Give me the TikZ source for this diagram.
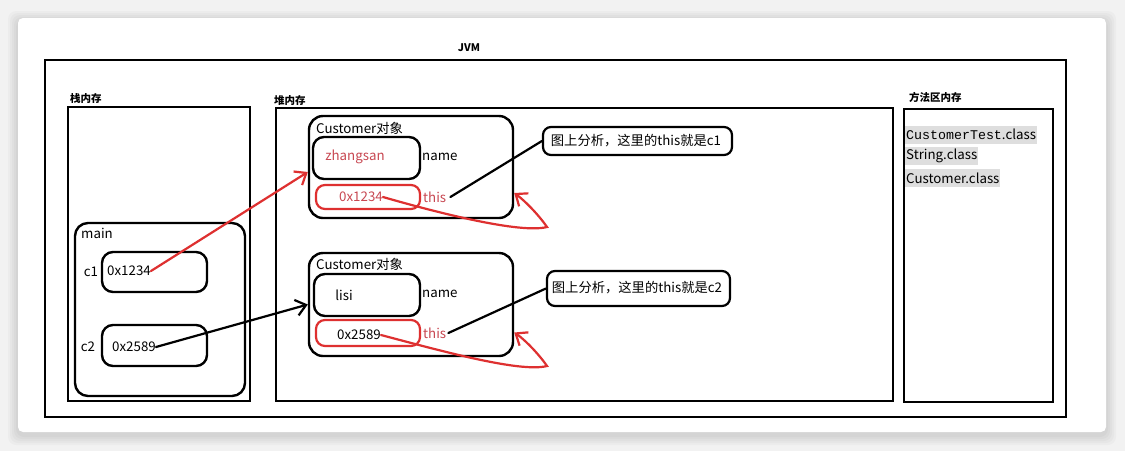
\documentclass[tikz,border=0pt]{standalone}
\usepackage{fontspec}
\setmainfont{Noto Sans CJK SC}
\newfontfamily\codefont{Liberation Mono}
\usetikzlibrary{arrows.meta}
\definecolor{inkred}{RGB}{222,48,48}
\definecolor{txtred}{RGB}{200,72,82}
\definecolor{hlgray}{RGB}{222,222,222}
\definecolor{pagebg}{RGB}{242,242,242}

\begin{document}
\begin{tikzpicture}[x=1pt,y=-1pt,
  frame/.style={draw, line width=2.5pt, rectangle, inner sep=0pt},
  rbox/.style={draw, line width=2.4pt, rounded corners=11pt, inner sep=0pt},
  redbox/.style={draw=inkred, line width=2.2pt, rounded corners=9pt, inner sep=0pt},
  callout/.style={draw, line width=2.2pt, rounded corners=8pt, inner sep=0pt},
  txt/.style={font=\fontsize{13.3}{15}\selectfont, inner sep=0pt},
  head/.style={font=\bfseries\fontsize{10.5}{12}\selectfont, inner sep=0pt, anchor=west},
  cls/.style={txt, anchor=west, fill=hlgray, inner xsep=1pt, inner ysep=0pt,
    minimum height=18pt},
  barb/.style={-{Straight Barb[length=10pt,width=16pt]}},
  redline/.style={draw=inkred, line width=2.2pt, line cap=round},
  blackline/.style={draw=black, line width=2.2pt, line cap=round}]

% page and card
\useasboundingbox (0,0) rectangle (1125,451);
\fill[pagebg] (0,0) rectangle (1125,451);
\foreach \s in {10,8,6,4,2}
  \fill[black, opacity=0.025, rounded corners=8pt]
    (18-\s,18-\s+3) rectangle (1106+\s,432+\s+3);
\fill[white, rounded corners=5pt] (18,18) rectangle (1106,432);

% memory areas
\node[head, anchor=center] (jvmlabel) at (469,48) {JVM};
\node[frame, minimum width=1021pt, minimum height=357pt] (jvm) at (555.5,238.5) {};

\node[head] (stacklabel) at (70,99) {栈内存};
\node[frame, minimum width=182pt, minimum height=294pt] (stack) at (159,254) {};

\node[head] (heaplabel) at (274,101) {堆内存};
\node[frame, minimum width=617pt, minimum height=293pt] (heap) at (584.5,254.5) {};

\node[head] (methodlabel) at (909,97) {方法区内存};
\node[frame, minimum width=149pt, minimum height=293pt] (method) at (978.5,255.5) {};

% method area contents
\node[cls] (cls1) at (905,134.5) {{\codefont CustomerTest}.class};
\node[cls] (cls2) at (905,156) {String.class};
\node[cls] (cls3) at (905,178) {Customer.class};

% stack frame of main
\node[rbox, minimum width=170pt, minimum height=173pt, rounded corners=13pt] (mainframe) at (160,309.5) {};
\node[txt, anchor=west] (mainlabel) at (81,233) {main};
\node[rbox, minimum width=105pt, minimum height=40pt] (c1box) at (154.5,272) {};
\node[rbox, minimum width=105pt, minimum height=41pt] (c2box) at (154.5,345.5) {};
\node[txt] (c1label) at (91,272) {c1};
\node[txt] (c2label) at (88,347) {c2};
\node[txt] (c1val) at (129,271) {0x1234};
\node[txt] (c2val) at (134,347) {0x2589};

% first object
\node[rbox, minimum width=204pt, minimum height=102pt, rounded corners=14pt] (obj1) at (411,167) {};
\node[txt, anchor=west] (obj1label) at (316,128) {Customer对象};
\node[rbox, minimum width=107pt, minimum height=42pt] (name1box) at (366.5,158) {};
\node[txt, text=txtred] (name1val) at (355,157) {zhangsan};
\node[txt, anchor=west] (name1label) at (422,157) {name};
\node[redbox, minimum width=104pt, minimum height=24pt] (this1box) at (368,197) {};
\node[txt, text=txtred] (this1val) at (361,197) {0x1234};
\node[txt, anchor=west, text=txtred] (this1label) at (423,197) {this};

% second object
\node[rbox, minimum width=204pt, minimum height=103pt, rounded corners=14pt] (obj2) at (411,304.5) {};
\node[txt, anchor=west] (obj2label) at (316,264) {Customer对象};
\node[rbox, minimum width=106pt, minimum height=42pt] (name2box) at (367,295) {};
\node[txt] (name2val) at (344,295) {lisi};
\node[txt, anchor=west] (name2label) at (422,294) {name};
\node[redbox, minimum width=104pt, minimum height=26pt] (this2box) at (368,333) {};
\node[txt] (this2val) at (359,335) {0x2589};
\node[txt, anchor=west, text=txtred] (this2label) at (423,333) {this};

% notes
\node[callout, minimum width=189pt, minimum height=28pt] (note1) at (637.5,141) {};
\node[txt] (note1text) at (636,141) {图上分析，这里的this就是c1};
\node[callout, minimum width=183pt, minimum height=35pt] (note2) at (638.5,288.5) {};
\node[txt] (note2text) at (637,288) {图上分析，这里的this就是c2};

% references from the stack
\draw[redline, barb] (c1val.east) -- ([yshift=-5pt]obj1.west);
\draw[blackline, barb] (c2val.east) -- (obj2.west);

% this points back to its own object
\coordinate (loop1) at (547,227);
\coordinate (loop2) at (547,366);
\draw[redline, barb] (this1val.east) .. controls (435,212) and (520,234) .. (loop1)
  .. controls (538,214) and (524,200) .. ([yshift=-26pt]obj1.east);
\draw[redline, barb] (this2val.east) .. controls (438,350) and (520,373) .. (loop2)
  .. controls (538,353) and (524,339) .. ([yshift=-28pt]obj2.east);

% notes attached to this
\draw[blackline] ([xshift=4pt]this1label.east) -- (note1.west);
\draw[blackline] ([xshift=2pt]this2label.east) -- (note2.west);
\end{tikzpicture}
\end{document}
